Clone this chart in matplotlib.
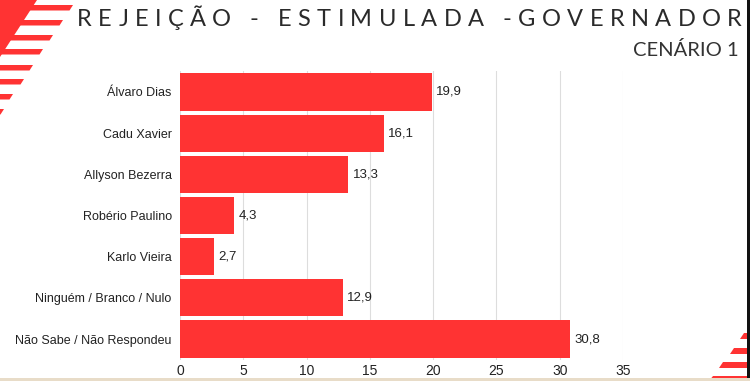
import matplotlib.pyplot as plt
from matplotlib.patches import Polygon, Rectangle

# data
categories = ["Álvaro Dias", "Cadu Xavier", "Allyson Bezerra", "Robério Paulino",
              "Karlo Vieira", "Ninguém / Branco / Nulo", "Não Sabe / Não Respondeu"]
values = [19.9, 16.1, 13.3, 4.3, 2.7, 12.9, 30.8]
xticks = [0, 5, 10, 15, 20, 25, 30, 35]

title = "REJEIÇÃO - ESTIMULADA -GOVERNADOR"
subtitle = "CENÁRIO 1"

red = "#FF3333"
W, H = 750, 381

fig = plt.figure(figsize=(7.5, 3.81), dpi=100)
fig.patch.set_facecolor("white")

ax = fig.add_axes([180 / W, 1 - 359.6 / H, (623 - 180) / W, (359.6 - 71.4) / H])
ypos = list(range(len(categories)))
ax.barh(ypos, values, height=0.9, color=red, zorder=2)
ax.set_ylim(len(categories) - 0.5, -0.5)
ax.set_xlim(0, 35)
ax.set_yticks(ypos)
ax.set_yticklabels(categories, fontsize=9, color="#222222", family="Liberation Sans")
ax.set_xticks(xticks)
ax.set_xticklabels([str(t) for t in xticks], fontsize=10, color="#222222", family="Liberation Sans")
ax.tick_params(axis="both", length=0)
ax.tick_params(axis="y", pad=6)
ax.tick_params(axis="x", pad=3)
ax.grid(axis="x", color="#DDDDDD", lw=0.8, zorder=0)
for s in ax.spines.values():
    s.set_visible(False)

for y, v in zip(ypos, values):
    ax.annotate(f"{v:.1f}".replace(".", ","), (v, y), xytext=(3, 0), textcoords="offset points",
                va="center", ha="left", fontsize=9.5, color="#222222", family="Liberation Sans")

# title with letter spacing: measure each glyph, spread the rest evenly
renderer = fig.canvas.get_renderer()
x_start, x_end = 77, 742
chars = []
widths = []
for ch in title:
    t = fig.text(0, 1 - 20 / H, ch, ha="left", va="center",
                 fontsize=17, color="#2a2a2a", family="Lato")
    chars.append(t)
    widths.append(t.get_window_extent(renderer).width)
track = (x_end - x_start - sum(widths)) / (len(title) - 1)
x = x_start
for t, w in zip(chars, widths):
    t.set_x(x / W)
    x += w + track

fig.text(739 / W, 1 - 50 / H, subtitle, ha="right", va="center", fontsize=14.5,
         color="#333333", family="Lato")

# decorative stripes, top-left
def px(pts):
    return [(x / W, 1 - y / H) for x, y in pts]

fig.patches.append(Polygon(px([(0, 0), (37, 0), (0, 57)]), closed=True, fc=red, ec="none",
                           transform=fig.transFigure, figure=fig))
ends = [(73, 5), (63, 20), (53, 35), (43, 49), (33, 65), (24, 79), (13, 94), (4, 109)]
for xe, ys in ends:
    th = 5.5
    fig.patches.append(Polygon(px([(0, ys), (xe, ys), (xe - 3.5, ys + th), (0, ys + th)]),
                               closed=True, fc=red, ec="none",
                               transform=fig.transFigure, figure=fig))

# decorative stripes, bottom-right
for xs, ys in [(740, 333), (730, 348), (719, 362), (709, 376)]:
    th = 5.5
    fig.patches.append(Polygon(px([(xs + 3.5, ys), (748, ys), (748, ys + th), (xs, ys + th)]),
                               closed=True, fc=red, ec="none",
                               transform=fig.transFigure, figure=fig))

# right black edge and bottom beige strip
fig.patches.append(Rectangle((747 / W, 0), 3 / W, 1, fc="#111111", ec="none",
                             transform=fig.transFigure, figure=fig))
fig.patches.append(Rectangle((0, 0), 1, 3 / H, fc="#E8DCC8", ec="none",
                             transform=fig.transFigure, figure=fig))

fig.savefig("out.png", dpi=100)
